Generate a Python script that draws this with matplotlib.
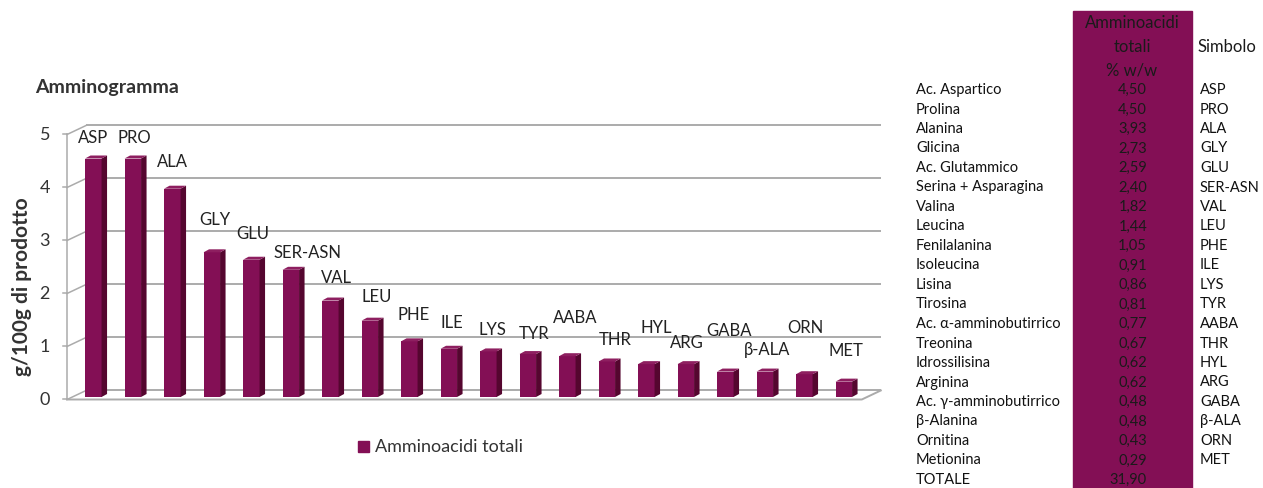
import matplotlib
matplotlib.use('Agg')
import matplotlib.pyplot as plt
from matplotlib.patches import Polygon, Rectangle

plt.rcParams['font.family'] = ['Lato', 'DejaVu Sans']

names = ['Ac. Aspartico', 'Prolina', 'Alanina', 'Glicina', 'Ac. Glutammico',
         'Serina + Asparagina', 'Valina', 'Leucina', 'Fenilalanina', 'Isoleucina',
         'Lisina', 'Tirosina', 'Ac. α-amminobutirrico', 'Treonina', 'Idrossilisina',
         'Arginina', 'Ac. γ-amminobutirrico', 'β-Alanina', 'Ornitina', 'Metionina']
values = [4.50, 4.50, 3.93, 2.73, 2.59, 2.40, 1.82, 1.44, 1.05, 0.91,
          0.86, 0.81, 0.77, 0.67, 0.62, 0.62, 0.48, 0.48, 0.43, 0.29]
symbols = ['ASP', 'PRO', 'ALA', 'GLY', 'GLU', 'SER-ASN', 'VAL', 'LEU', 'PHE', 'ILE',
           'LYS', 'TYR', 'AABA', 'THR', 'HYL', 'ARG', 'GABA', 'β-ALA', 'ORN', 'MET']
total = 31.90
yticks = [0, 1, 2, 3, 4, 5]

# where Excel put each data label (pixels from the bar top)
label_off = [(0, 21), (2, 21), (0, 28), (3, 33), (1, 27), (17, 18), (6, 24), (7, 25),
             (4, 27), (3, 27), (4, 22), (6, 21), (8, 39), (8, 22), (10, 37), (1, 22),
             (4, 42), (2, 23), (1, 47), (2, 32)]

W, H = 1263, 489
fig = plt.figure(figsize=(W / 100, H / 100), dpi=100)

purple = '#830F55'
side = '#55062F'
topc = '#8E1F60'
grid = '#ABABAB'

# chart axes: 1 x unit = 39.5 px, 1 y unit = 53 px
ax = fig.add_axes([0, 0, 900 / W, 1])
ax.set_xlim(-93.3 / 39.5, (900 - 93.3) / 39.5)
ax.set_ylim((398 - 489) / 53, 398 / 53)
ax.axis('off')

L, R = -0.53, 19.59
fx, fy = -0.134, -0.047   # front plane offset
bx, by = 0.347, 0.123     # back wall offset

for v in yticks:
    ax.plot([L + bx, R + bx], [v + by, v + by], color=grid, lw=1.4, zorder=1,
            solid_capstyle='butt')
    ax.plot([L + fx, L + bx], [v + fy, v + by], color=grid, lw=1.1, zorder=1)
    ax.plot([L + fx - 4 / 39.5, L + fx], [v + fy, v + fy], color=grid, lw=1.1, zorder=1)
    ax.text(L + fx - 17 / 39.5, v + fy, str(v), ha='right', va='center',
            fontsize=13, color='#333333')
ax.plot([L + fx, L + fx], [fy, 5 + fy], color=grid, lw=1.1, zorder=1)
ax.plot([L + fx, R + fx, R + bx], [fy, fy, by], color=grid, lw=1.4, zorder=1)

w = 0.418
ddx, ddy = 5.5 / 39.5, 3 / 53
xs = list(range(len(values)))
ax.bar(xs, values, width=w, color=purple, zorder=3)
for i, v in zip(xs, values):
    r = i + w / 2
    l = i - w / 2
    ax.add_patch(Polygon([(r, 0), (r + ddx, ddy), (r + ddx, v + ddy), (r, v)],
                         closed=True, fc=side, ec='none', zorder=3))
    ax.add_patch(Polygon([(l, v), (r, v), (r + ddx, v + ddy), (l + ddx, v + ddy)],
                         closed=True, fc=topc, ec='none', zorder=3))
    ox, oy = label_off[i]
    ax.annotate(symbols[i], (i, v), xytext=(ox, oy), textcoords='offset pixels',
                ha='center', va='center', fontsize=12, color='#222222')


def px(x, y):
    return x / W, 1 - y / H


fig.text(*px(35, 87), 'Amminogramma', fontsize=14, fontweight='bold',
         color='#333333', va='center', ha='left')
fig.text(*px(22, 287), 'g/100g di prodotto', fontsize=15, fontweight='bold',
         color='#333333', rotation=90, va='center', ha='center')
fig.patches.append(Rectangle(px(358, 453), 11 / W, 11 / H, color=purple,
                             transform=fig.transFigure, figure=fig))
fig.text(*px(375, 447), 'Amminoacidi totali', fontsize=13, color='#333333',
         va='center', ha='left')

# table on the right
fig.patches.append(Rectangle(px(1073, 489), 119 / W, 477 / H, color=purple,
                             transform=fig.transFigure, figure=fig, zorder=0))
for k, line in enumerate(['Amminoacidi', 'totali', '% w/w']):
    fig.text(*px(1132, 23 + 23.5 * k), line, fontsize=12, color='#1a1a1a',
             ha='center', va='center')
fig.text(*px(1197, 47), 'Simbolo', fontsize=12, color='#1a1a1a', ha='left', va='center')

rows_n = names + ['TOTALE']
rows_v = values + [total]
rows_s = symbols + ['']
for k in range(len(rows_n)):
    y = 90 + 19.5 * k
    fig.text(*px(916, y), rows_n[k], fontsize=10.5, color='#111111', ha='left', va='center')
    fig.text(*px(1147, y), f'{rows_v[k]:.2f}'.replace('.', ','), fontsize=10.5,
             color='#1a1a1a', ha='right', va='center')
    fig.text(*px(1200, y), rows_s[k], fontsize=10.5, color='#111111', ha='left', va='center')

fig.savefig('out.png', dpi=100)
